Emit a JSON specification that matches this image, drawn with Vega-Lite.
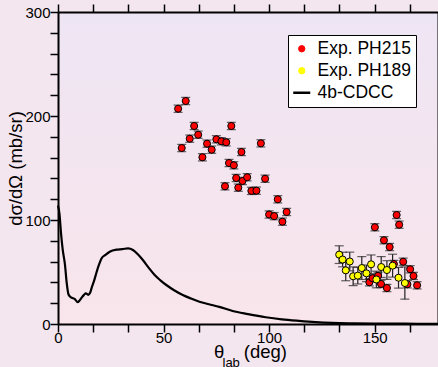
{
  "$schema": "https://vega.github.io/schema/vega-lite/v6.json",
  "width": 380,
  "height": 312,
  "autosize": {"type": "none"},
  "padding": {"left": 58, "top": 12, "right": 0, "bottom": 43},
  "background": "#F4E6EF",
  "config": {
    "font": "Liberation Sans",
    "view": {
      "stroke": null,
      "fill": {"gradient": "linear", "x1": 0, "y1": 0, "x2": 0, "y2": 1,
        "stops": [{"offset": 0, "color": "#EEE5F4"}, {"offset": 1, "color": "#F9E5EB"}]}
    },
    "axis": {
      "grid": false, "domainColor": "black", "domainWidth": 2, "ticks": true, "tickColor": "black", "tickWidth": 1.5,
      "labelColor": "black", "labelFontSize": 15, "titleColor": "black", "titleFontWeight": "normal",
      "labelFlush": false, "labelOverlap": false, "labelBound": false, "zindex": 1
    },
    "legend": {
      "orient": "none", "legendX": 230, "legendY": 23,
      "fillColor": "white", "strokeColor": "black", "padding": 5, "cornerRadius": 0,
      "labelFontSize": 17.5, "labelColor": "black", "labelOffset": 7, "rowPadding": 3,
      "symbolSize": 289, "symbolStrokeColor": "black", "symbolStrokeWidth": 1
    }
  },
  "datasets": {
    "cdcc": [
      {"theta": 0, "xs": 114, "series": "4b-CDCC"},
      {"theta": 0.7, "xs": 106, "series": "4b-CDCC"},
      {"theta": 1.4, "xs": 88, "series": "4b-CDCC"},
      {"theta": 2.2, "xs": 72, "series": "4b-CDCC"},
      {"theta": 3.3, "xs": 57, "series": "4b-CDCC"},
      {"theta": 4.1, "xs": 40, "series": "4b-CDCC"},
      {"theta": 4.9, "xs": 29, "series": "4b-CDCC"},
      {"theta": 5.6, "xs": 26.5, "series": "4b-CDCC"},
      {"theta": 6.5, "xs": 25.3, "series": "4b-CDCC"},
      {"theta": 8.0, "xs": 24, "series": "4b-CDCC"},
      {"theta": 9.3, "xs": 21, "series": "4b-CDCC"},
      {"theta": 10.2, "xs": 22.5, "series": "4b-CDCC"},
      {"theta": 11.2, "xs": 25.3, "series": "4b-CDCC"},
      {"theta": 12.3, "xs": 28, "series": "4b-CDCC"},
      {"theta": 13.2, "xs": 29.5, "series": "4b-CDCC"},
      {"theta": 14.3, "xs": 28, "series": "4b-CDCC"},
      {"theta": 15.2, "xs": 30, "series": "4b-CDCC"},
      {"theta": 15.9, "xs": 34.5, "series": "4b-CDCC"},
      {"theta": 17.0, "xs": 41, "series": "4b-CDCC"},
      {"theta": 18.3, "xs": 50, "series": "4b-CDCC"},
      {"theta": 19.5, "xs": 57.5, "series": "4b-CDCC"},
      {"theta": 20.6, "xs": 63, "series": "4b-CDCC"},
      {"theta": 22.5, "xs": 66.5, "series": "4b-CDCC"},
      {"theta": 24.5, "xs": 69.5, "series": "4b-CDCC"},
      {"theta": 27.7, "xs": 71.5, "series": "4b-CDCC"},
      {"theta": 30.5, "xs": 72, "series": "4b-CDCC"},
      {"theta": 33.2, "xs": 72.8, "series": "4b-CDCC"},
      {"theta": 35.5, "xs": 71.2, "series": "4b-CDCC"},
      {"theta": 37.8, "xs": 67, "series": "4b-CDCC"},
      {"theta": 40.2, "xs": 61.5, "series": "4b-CDCC"},
      {"theta": 43.0, "xs": 54, "series": "4b-CDCC"},
      {"theta": 45.8, "xs": 47.1, "series": "4b-CDCC"},
      {"theta": 48.5, "xs": 42, "series": "4b-CDCC"},
      {"theta": 51.3, "xs": 37.5, "series": "4b-CDCC"},
      {"theta": 55.0, "xs": 32.5, "series": "4b-CDCC"},
      {"theta": 59.1, "xs": 27.9, "series": "4b-CDCC"},
      {"theta": 63.0, "xs": 24.5, "series": "4b-CDCC"},
      {"theta": 67.0, "xs": 21.4, "series": "4b-CDCC"},
      {"theta": 71.5, "xs": 19, "series": "4b-CDCC"},
      {"theta": 76.4, "xs": 16.5, "series": "4b-CDCC"},
      {"theta": 82.7, "xs": 12.5, "series": "4b-CDCC"},
      {"theta": 90, "xs": 9.5, "series": "4b-CDCC"},
      {"theta": 98.4, "xs": 6.5, "series": "4b-CDCC"},
      {"theta": 106, "xs": 4.5, "series": "4b-CDCC"},
      {"theta": 114.2, "xs": 3, "series": "4b-CDCC"},
      {"theta": 122, "xs": 1.8, "series": "4b-CDCC"},
      {"theta": 129.9, "xs": 1, "series": "4b-CDCC"},
      {"theta": 140, "xs": 0.6, "series": "4b-CDCC"},
      {"theta": 150, "xs": 0.4, "series": "4b-CDCC"},
      {"theta": 160, "xs": 0.3, "series": "4b-CDCC"},
      {"theta": 170, "xs": 0.25, "series": "4b-CDCC"},
      {"theta": 180, "xs": 0.2, "series": "4b-CDCC"}
    ],
    "exp": [
      {"theta": 56.9, "xs": 207.0, "err": 3.5, "series": "Exp. PH215"},
      {"theta": 60.5, "xs": 214.4, "err": 3.5, "series": "Exp. PH215"},
      {"theta": 58.6, "xs": 169.2, "err": 3.5, "series": "Exp. PH215"},
      {"theta": 62.4, "xs": 178.2, "err": 3.5, "series": "Exp. PH215"},
      {"theta": 64.5, "xs": 190.4, "err": 3.5, "series": "Exp. PH215"},
      {"theta": 66.4, "xs": 182.0, "err": 3.5, "series": "Exp. PH215"},
      {"theta": 68.4, "xs": 160.3, "err": 3.5, "series": "Exp. PH215"},
      {"theta": 70.6, "xs": 173.4, "err": 3.5, "series": "Exp. PH215"},
      {"theta": 72.8, "xs": 167.6, "err": 3.5, "series": "Exp. PH215"},
      {"theta": 75.0, "xs": 177.6, "err": 3.5, "series": "Exp. PH215"},
      {"theta": 77.4, "xs": 175.7, "err": 3.5, "series": "Exp. PH215"},
      {"theta": 79.7, "xs": 174.7, "err": 3.5, "series": "Exp. PH215"},
      {"theta": 82.1, "xs": 190.4, "err": 3.5, "series": "Exp. PH215"},
      {"theta": 86.9, "xs": 165.4, "err": 3.5, "series": "Exp. PH215"},
      {"theta": 81.0, "xs": 154.8, "err": 3.5, "series": "Exp. PH215"},
      {"theta": 83.3, "xs": 152.6, "err": 3.5, "series": "Exp. PH215"},
      {"theta": 96.1, "xs": 173.7, "err": 3.5, "series": "Exp. PH215"},
      {"theta": 79.1, "xs": 132.4, "err": 3.5, "series": "Exp. PH215"},
      {"theta": 84.4, "xs": 140.4, "err": 3.5, "series": "Exp. PH215"},
      {"theta": 87.4, "xs": 137.5, "err": 3.5, "series": "Exp. PH215"},
      {"theta": 89.6, "xs": 141.1, "err": 3.5, "series": "Exp. PH215"},
      {"theta": 98.1, "xs": 139.7, "err": 3.5, "series": "Exp. PH215"},
      {"theta": 85.4, "xs": 131.1, "err": 3.5, "series": "Exp. PH215"},
      {"theta": 91.6, "xs": 128.0, "err": 3.5, "series": "Exp. PH215"},
      {"theta": 94.0, "xs": 128.2, "err": 3.5, "series": "Exp. PH215"},
      {"theta": 104.1, "xs": 119.9, "err": 3.5, "series": "Exp. PH215"},
      {"theta": 100.0, "xs": 105.3, "err": 3.5, "series": "Exp. PH215"},
      {"theta": 102.4, "xs": 103.7, "err": 3.5, "series": "Exp. PH215"},
      {"theta": 108.3, "xs": 107.7, "err": 3.5, "series": "Exp. PH215"},
      {"theta": 106.3, "xs": 98.4, "err": 3.5, "series": "Exp. PH215"},
      {"theta": 150.1, "xs": 93.0, "err": 3.5, "series": "Exp. PH215"},
      {"theta": 160.4, "xs": 104.8, "err": 3.5, "series": "Exp. PH215"},
      {"theta": 161.6, "xs": 95.5, "err": 3.5, "series": "Exp. PH215"},
      {"theta": 154.4, "xs": 80.5, "err": 3.5, "series": "Exp. PH215"},
      {"theta": 157.1, "xs": 74.0, "err": 3.5, "series": "Exp. PH215"},
      {"theta": 163.5, "xs": 59.9, "err": 3.5, "series": "Exp. PH215"},
      {"theta": 159.1, "xs": 57.7, "err": 3.5, "series": "Exp. PH215"},
      {"theta": 166.8, "xs": 52.6, "err": 3.5, "series": "Exp. PH215"},
      {"theta": 168.4, "xs": 46.2, "err": 3.5, "series": "Exp. PH215"},
      {"theta": 170.1, "xs": 37.2, "err": 3.5, "series": "Exp. PH215"},
      {"theta": 165.5, "xs": 38.2, "err": 3.5, "series": "Exp. PH215"},
      {"theta": 155.8, "xs": 34.6, "err": 3.5, "series": "Exp. PH215"},
      {"theta": 153.0, "xs": 38.5, "err": 3.5, "series": "Exp. PH215"},
      {"theta": 147.5, "xs": 40.1, "err": 3.5, "series": "Exp. PH215"},
      {"theta": 149.0, "xs": 44.0, "err": 3.5, "series": "Exp. PH215"},
      {"theta": 151.6, "xs": 46.3, "err": 3.5, "series": "Exp. PH215"},
      {"theta": 133.2, "xs": 66.7, "err": 8.5, "series": "Exp. PH189"},
      {"theta": 134.8, "xs": 62.0, "err": 7, "series": "Exp. PH189"},
      {"theta": 138.2, "xs": 60.1, "err": 9, "series": "Exp. PH189"},
      {"theta": 136.3, "xs": 51.6, "err": 10, "series": "Exp. PH189"},
      {"theta": 139.8, "xs": 45.9, "err": 9, "series": "Exp. PH189"},
      {"theta": 142.0, "xs": 46.5, "err": 8, "series": "Exp. PH189"},
      {"theta": 143.9, "xs": 53.8, "err": 11, "series": "Exp. PH189"},
      {"theta": 146.1, "xs": 48.7, "err": 8, "series": "Exp. PH189"},
      {"theta": 148.3, "xs": 57.4, "err": 9, "series": "Exp. PH189"},
      {"theta": 150.8, "xs": 42.8, "err": 8, "series": "Exp. PH189"},
      {"theta": 153.1, "xs": 54.8, "err": 10, "series": "Exp. PH189"},
      {"theta": 155.8, "xs": 51.9, "err": 9, "series": "Exp. PH189"},
      {"theta": 158.5, "xs": 56.1, "err": 11, "series": "Exp. PH189"},
      {"theta": 161.3, "xs": 44.5, "err": 10, "series": "Exp. PH189"},
      {"theta": 164.3, "xs": 39.4, "err": 15.5, "series": "Exp. PH189"}
    ]
  },
  "layer": [
    {
      "data": {"name": "cdcc"},
      "mark": {"type": "line", "strokeWidth": 2.2, "interpolate": "monotone"},
      "encoding": {
        "x": {"field": "theta", "type": "quantitative",
          "scale": {"domain": [0, 180], "nice": false, "zero": false},
          "axis": {"orient": "bottom", "zindex": 1, "ticks": true,
            "values": [0, 16.6667, 33.3333, 50, 66.6667, 83.3333, 100, 116.6667, 133.3333, 150, 166.6667],
            "labelExpr": "datum.value % 50 === 0 ? '' + datum.value : ''",
            "tickSize": 8, "labelPadding": -2,
            "encode": {"ticks": {"update": {"y2": {"signal": "datum.value % 50 === 0 ? -8 : -4"}}}},
            "title": "θ\u2002\u00a0\u00a0(deg)", "titleFontSize": 18.5,
            "titleX": 192, "titleY": 33, "titleAlign": "center", "titleBaseline": "alphabetic"}},
        "y": {"field": "xs", "type": "quantitative",
          "scale": {"domain": [0, 300], "nice": false},
          "axis": {"orient": "left", "zindex": 1, "ticks": true,
            "values": [0, 20, 40, 60, 80, 100, 120, 140, 160, 180, 200, 220, 240, 260, 280, 300],
            "labelExpr": "datum.value % 100 === 0 ? '' + datum.value : ''",
            "tickSize": 8, "labelPadding": 0,
            "encode": {"ticks": {"update": {"x2": {"signal": "datum.value % 100 === 0 ? 8 : 4"}}}},
            "title": "dσ/dΩ (mb/sr)", "titleFontSize": 18.5, "titleAngle": -90,
            "titleX": -36.5, "titleY": 156, "titleAlign": "center", "titleBaseline": "alphabetic"}},
        "color": {"field": "series", "type": "nominal",
          "scale": {"domain": ["Exp. PH215", "Exp. PH189", "4b-CDCC"], "range": ["#FF0000", "#FFFF00", "#000000"]},
          "legend": {"title": null,
            "encode": {"symbols": {"update": {
              "shape": {"signal": "datum.value === '4b-CDCC' ? 'stroke' : 'circle'"},
              "size": {"signal": "datum.value === '4b-CDCC' ? 289 : 40"},
              "strokeWidth": {"signal": "datum.value === '4b-CDCC' ? 2.5 : 1"},
              "stroke": {"value": "black"}}}}}}
      }
    },
    {
      "data": {"name": "exp"},
      "mark": {"type": "errorbar", "color": "#222222", "thickness": 1.2, "ticks": {"size": 9, "thickness": 1.2, "color": "#222222"}},
      "encoding": {
        "x": {"field": "theta", "type": "quantitative", "axis": null},
        "y": {"field": "xs", "type": "quantitative", "axis": null},
        "yError": {"field": "err"}
      }
    },
    {
      "data": {"name": "exp"},
      "mark": {"type": "point", "filled": true, "stroke": "black", "strokeWidth": 1, "size": 50, "opacity": 1},
      "encoding": {
        "x": {"field": "theta", "type": "quantitative",
          "scale": {"domain": [0, 180], "nice": false, "zero": false},
          "axis": {"orient": "top", "zindex": 1, "ticks": true,
            "values": [0, 16.6667, 33.3333, 50, 66.6667, 83.3333, 100, 116.6667, 133.3333, 150, 166.6667],
            "labels": false, "tickSize": 8,
            "encode": {"ticks": {"update": {"y2": {"signal": "datum.value % 50 === 0 ? 8 : 4"}}}},
            "title": "lab", "titleFontSize": 13,
            "titleX": 164, "titleY": 354, "titleAlign": "left", "titleBaseline": "alphabetic"}},
        "y": {"field": "xs", "type": "quantitative",
          "scale": {"domain": [0, 300], "nice": false},
          "axis": {"orient": "right", "zindex": 1, "ticks": true,
            "values": [0, 20, 40, 60, 80, 100, 120, 140, 160, 180, 200, 220, 240, 260, 280, 300],
            "labels": false, "tickSize": 8,
            "encode": {"ticks": {"update": {"x2": {"signal": "datum.value % 100 === 0 ? -8 : -4"}}}},
            "title": null}},
        "color": {"field": "series", "type": "nominal",
          "scale": {"domain": ["Exp. PH215", "Exp. PH189", "4b-CDCC"], "range": ["#FF0000", "#FFFF00", "#000000"]},
          "legend": {"title": null,
            "encode": {"symbols": {"update": {
              "shape": {"signal": "datum.value === '4b-CDCC' ? 'stroke' : 'circle'"},
              "size": {"signal": "datum.value === '4b-CDCC' ? 289 : 40"},
              "strokeWidth": {"signal": "datum.value === '4b-CDCC' ? 2.5 : 1"},
              "stroke": {"value": "black"}}}}}}
      }
    }
  ],
  "resolve": {"axis": {"x": "independent", "y": "independent"}}
}
